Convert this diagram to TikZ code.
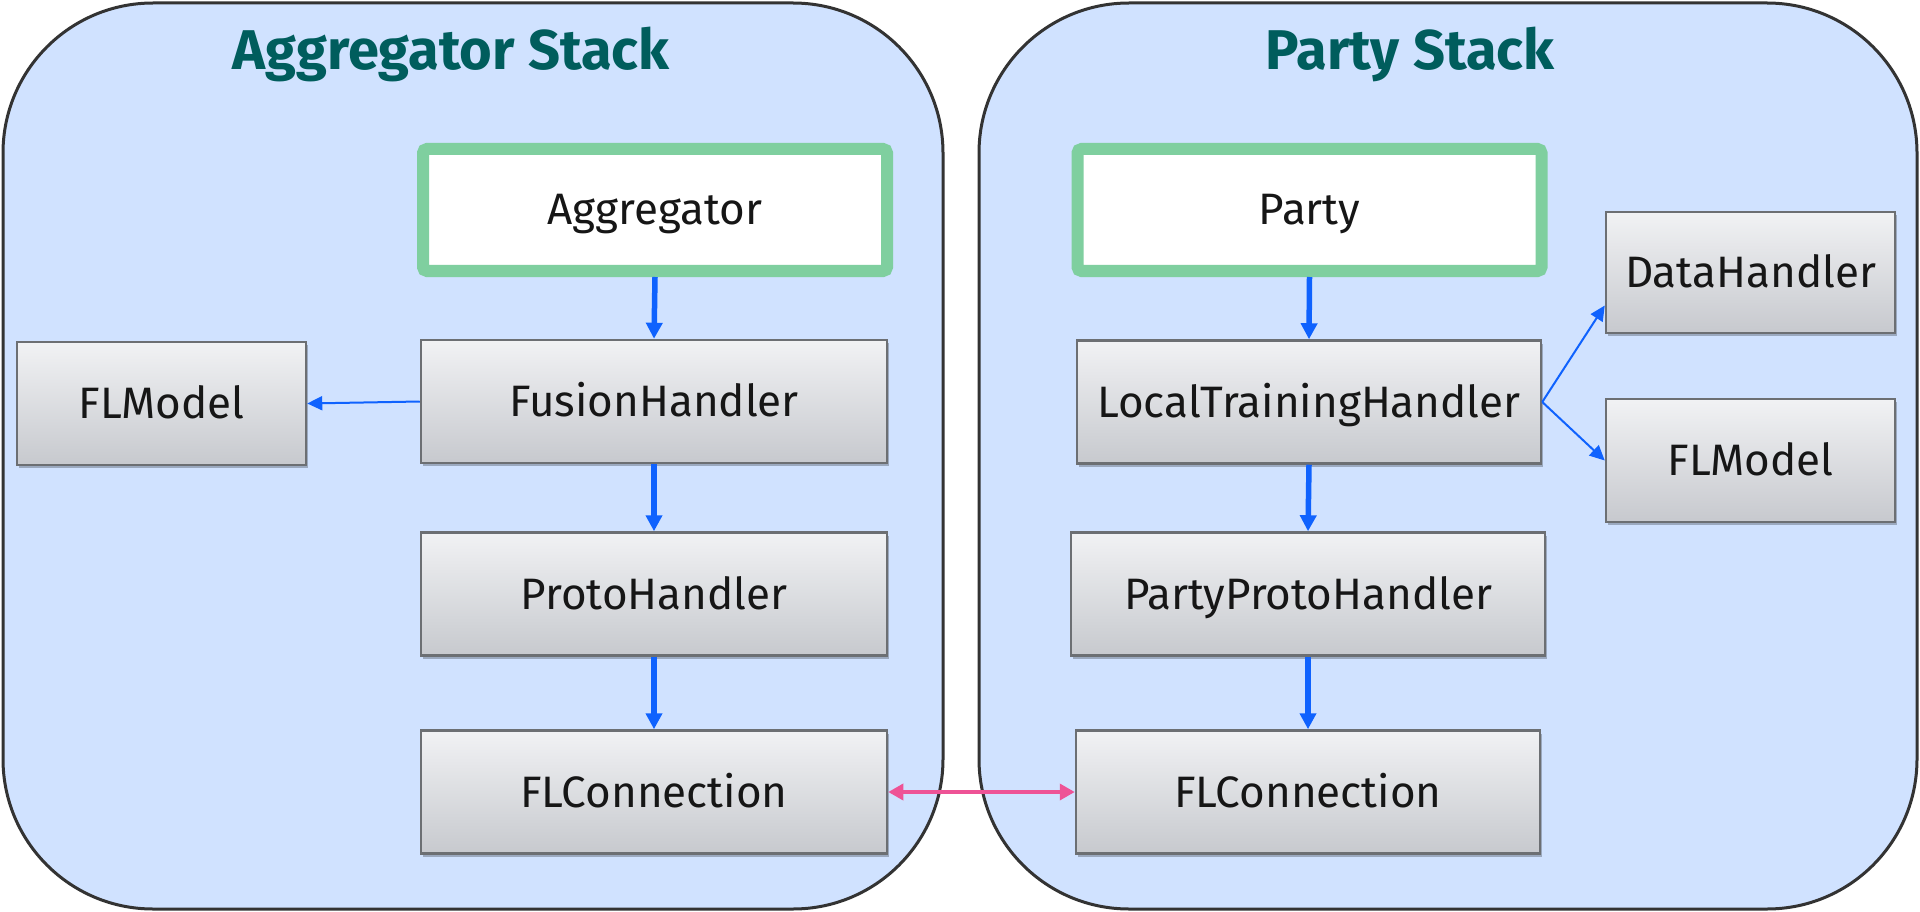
\documentclass[tikz,border=0pt]{standalone}
\usepackage{fontspec}
\setmainfont{Fira Sans}
\newfontfamily\titlefont{Fira Sans}
\usetikzlibrary{shadows,arrows.meta}
\definecolor{cfill}{RGB}{208,226,255}
\definecolor{cline}{RGB}{51,51,51}
\definecolor{titlec}{RGB}{0,93,93}
\definecolor{greenc}{RGB}{127,207,159}
\definecolor{bluec}{RGB}{15,98,254}
\definecolor{pinkc}{RGB}{238,83,150}
\definecolor{boxtop}{RGB}{241,242,244}
\definecolor{boxbot}{RGB}{199,201,206}
\definecolor{boxline}{RGB}{108,111,115}
\definecolor{textc}{RGB}{22,22,22}
\begin{document}
\begin{tikzpicture}[x=1pt,y=-1pt,
  container/.style={draw=cline, line width=3pt, fill=cfill, rounded corners=150pt},
  titletext/.style={font=\titlefont\bfseries\fontsize{56}{60}\selectfont, text=titlec, anchor=base, inner sep=0pt},
  mainbox/.style={draw=greenc, line width=12pt, fill=white, rounded corners=4pt,
    minimum width=464pt, minimum height=122pt, inner sep=0pt,
    font=\fontsize{44}{48}\selectfont, text=textc, text height=30pt, text depth=0pt},
  compbox/.style={draw=boxline, line width=2.5pt, top color=boxtop, bottom color=boxbot,
    minimum height=123pt, inner sep=0pt,
    font=\fontsize{44}{48}\selectfont, text=textc, text height=30pt, text depth=0pt,
    drop shadow={shadow xshift=2pt, shadow yshift=-3pt, opacity=0.25, fill=black}},
  flow/.style={draw=bluec, line width=5.5pt, -{Triangle[length=16pt,width=16pt]}},
  thin/.style={draw=bluec, line width=2pt, -{Triangle[length=15pt,width=14pt]}},
  link/.style={draw=pinkc, line width=3.5pt, {Triangle[length=15pt,width=16pt]}-{Triangle[length=15pt,width=16pt]}}
]
\useasboundingbox (0,0) rectangle (1920,912);
\fill[white] (0,0) rectangle (1920,912);

\draw[container] (3,3) rectangle (943,909);
\draw[container] (979,3) rectangle (1917,909);

\node[titletext] (t1) at (451,70) {Aggregator Stack};
\node[titletext] (t2) at (1410,70) {Party Stack};

% left stack
\node[mainbox] (agg) at (655,210) {Aggregator};
\node[compbox, minimum width=466pt] (fh) at (654,401.5) {FusionHandler};
\node[compbox, minimum width=466pt] (ph) at (654,594) {ProtoHandler};
\node[compbox, minimum width=466pt] (fcl) at (654,792) {FLConnection};
\node[compbox, minimum width=289pt] (flml) at (161.5,403.5) {FLModel};

% right stack
\node[mainbox] (party) at (1309.5,210) {Party};
\node[compbox, minimum width=464pt] (lth) at (1309,402) {LocalTrainingHandler};
\node[compbox, minimum width=474pt] (pph) at (1308,594) {PartyProtoHandler};
\node[compbox, minimum width=464pt] (fcr) at (1308,792) {FLConnection};
\node[compbox, minimum width=289pt, minimum height=121pt] (dh) at (1750.5,272.5) {DataHandler};
\node[compbox, minimum width=289pt] (flmr) at (1750.5,460.5) {FLModel};

\coordinate (dhin) at ([yshift=-33pt]dh.west);

% connectors
\draw[flow] (agg.south) -- (fh.north);
\draw[flow] (fh.south) -- (ph.north);
\draw[flow] (ph.south) -- (fcl.north);
\draw[thin] (fh.west) -- (flml.east);

\draw[flow] (party.south) -- (lth.north);
\draw[flow] (lth.south) -- (pph.north);
\draw[flow] (pph.south) -- (fcr.north);
\draw[thin] (lth.east) -- (dhin);
\draw[thin] (lth.east) -- (flmr.west);

\draw[link] (fcl.east) -- (fcr.west);
\end{tikzpicture}
\end{document}
